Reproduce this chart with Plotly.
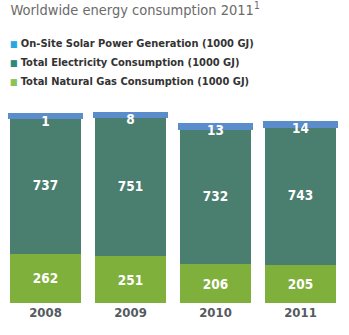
import plotly.graph_objects as go

years = ["2008", "2009", "2010", "2011"]
gas = [262, 251, 206, 205]
electricity = [737, 751, 732, 743]
solar = [1, 8, 13, 14]

series_names = [
    "On-Site Solar Power Generation (1000 GJ)",
    "Total Electricity Consumption (1000 GJ)",
    "Total Natural Gas Consumption (1000 GJ)",
]
legend_colors = ["#2aa7e0", "#2b8a7b", "#8dc15a"]
bar_colors = {"gas": "#7fb03c", "elec": "#4a7e6e", "solar": "#5b8dcc"}

FONT = "DejaVu Sans Condensed, Liberation Sans Narrow, Roboto, sans-serif"

fig = go.Figure()
common = dict(textposition="inside", insidetextanchor="middle", constraintext="none",
              texttemplate="<b>%{y}</b>",
              textfont=dict(family=FONT, size=13.5, color="white"), showlegend=False,
              hoverinfo="skip")
fig.add_trace(go.Bar(x=years, y=gas,
                     marker=dict(color=bar_colors["gas"], line=dict(width=0)), **common))
fig.add_trace(go.Bar(x=years, y=electricity,
                     marker=dict(color=bar_colors["elec"], line=dict(width=0)), **common))
fig.add_trace(go.Bar(x=years, y=solar, textposition="none", showlegend=False, hoverinfo="skip",
                     marker=dict(color=bar_colors["solar"], line=dict(color=bar_colors["solar"], width=5))))

# solar labels sit on top of each stack
totals = [g + e + s for g, e, s in zip(gas, electricity, solar)]
fig.add_trace(go.Scatter(x=years, y=totals, mode="text", text=[f"<b>{s}</b>" for s in solar],
                         textposition="bottom center", showlegend=False, hoverinfo="skip",
                         textfont=dict(family=FONT, size=13.5, color="white"), cliponaxis=False))

# legend built as text annotations
for i, (name, col) in enumerate(zip(series_names, legend_colors)):
    fig.add_annotation(
        xref="paper", yref="paper", x=0.015, y=(303 - (43 + 19 * i)) / 203,
        xanchor="left", yanchor="middle", showarrow=False,
        text=f'<span style="color:{col};font-size:9px">■</span> <b>{name}</b>',
        font=dict(family=FONT, size=11, color="#333333"),
    )

fig.update_layout(
    width=349, height=335,
    margin=dict(l=3, r=6, t=100, b=32),
    barmode="stack", bargap=0.165,
    plot_bgcolor="white", paper_bgcolor="white",
    title=dict(text="Worldwide energy consumption 2011<sup>1</sup>",
               x=0.03, xanchor="left", y=0.985, yanchor="top",
               font=dict(family=FONT, size=14.5, color="#6b6b6b")),
    xaxis=dict(type="category", showgrid=False, zeroline=False, showline=False, ticks="",
               tickvals=years, ticktext=[f"<b>{y}</b>" for y in years],
               tickfont=dict(family=FONT, size=13, color="#555a60")),
    yaxis=dict(visible=False, range=[0, 1085]),
    showlegend=False,
)
fig.write_html("out.html")
